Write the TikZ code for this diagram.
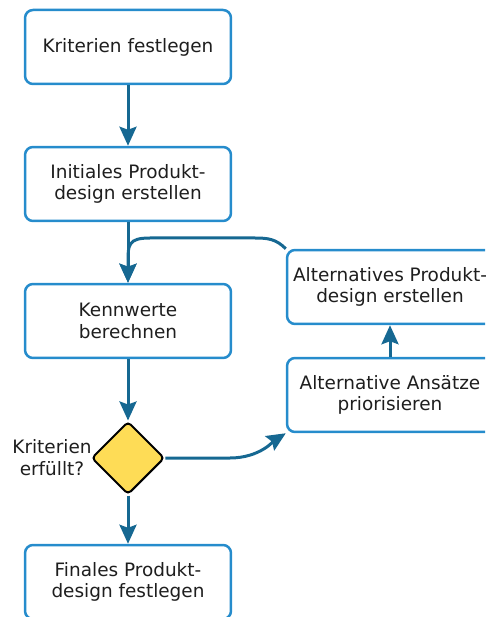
\documentclass[tikz,border=0pt]{standalone}
\usepackage{fontspec}
\setmainfont{DejaVu Sans}
\usetikzlibrary{shapes.geometric, arrows.meta}

\definecolor{boxblue}{RGB}{38,140,204}
\definecolor{flowblue}{RGB}{22,104,146}
\definecolor{checkyellow}{RGB}{254,220,86}
\definecolor{textgray}{RGB}{30,30,30}

\begin{document}
\begin{tikzpicture}[x = 0.02cm, y = -0.02cm,
    stepbox/.style = {draw = boxblue, line width = 0.05cm, rounded corners = 0.16cm, fill = white,
        minimum width = 4.12cm, minimum height = 1.48cm, align = center, text = textgray,
        font = \fontsize{10.5}{12.4}\selectfont},
    check/.style = {diamond, draw = black, line width = 0.04cm, rounded corners = 0.08cm,
        fill = checkyellow, minimum width = 1.46cm, minimum height = 1.46cm, inner sep = 0pt},
    flow/.style = {draw = flowblue, line width = 0.06cm,
        -{Stealth[length = 0.38cm, width = 0.34cm, inset = 0.06cm]}}]
    \useasboundingbox (0,0) rectangle (485,617);
    \clip (0,0) rectangle (485,617);

    \node[stepbox] (crit) at (128,47) {Kriterien festlegen};
    \node[stepbox] (init) at (128,184) {Initiales Produkt-\\design erstellen};
    \node[stepbox] (calc) at (128,321) {Kennwerte\\berechnen};
    \node[check] (ok) at (128,458) {};
    \node[stepbox] (final) at (128,582) {Finales Produkt-\\design festlegen};

    \node[stepbox] (alt) at (390,287) {Alternatives Produkt-\\design erstellen};
    \node[stepbox] (prio) at (390,395) {Alternative Ansätze\\priorisieren};

    \node[align = center, text = textgray, font = \fontsize{10.5}{12.4}\selectfont] (okq) at (52,458) {Kriterien\\erfüllt?};

    \draw[flow] (crit) -- (init);
    \draw[flow] (init) -- (calc);
    \draw[flow] (calc) -- (ok);
    \draw[flow] (ok) -- (final);
    \draw[flow] (prio) -- (alt);

    \draw[flow] (alt.north west) .. controls (276,239) and (268,238) .. (255,238) -- (150,238)
        .. controls (128,238) and (128,245) .. (128,262) -- (calc.north);
    \draw[flow] (ok.east) -- (230,458) .. controls (260,458) and (275,440) .. (prio.south west);

\end{tikzpicture}
\end{document}
